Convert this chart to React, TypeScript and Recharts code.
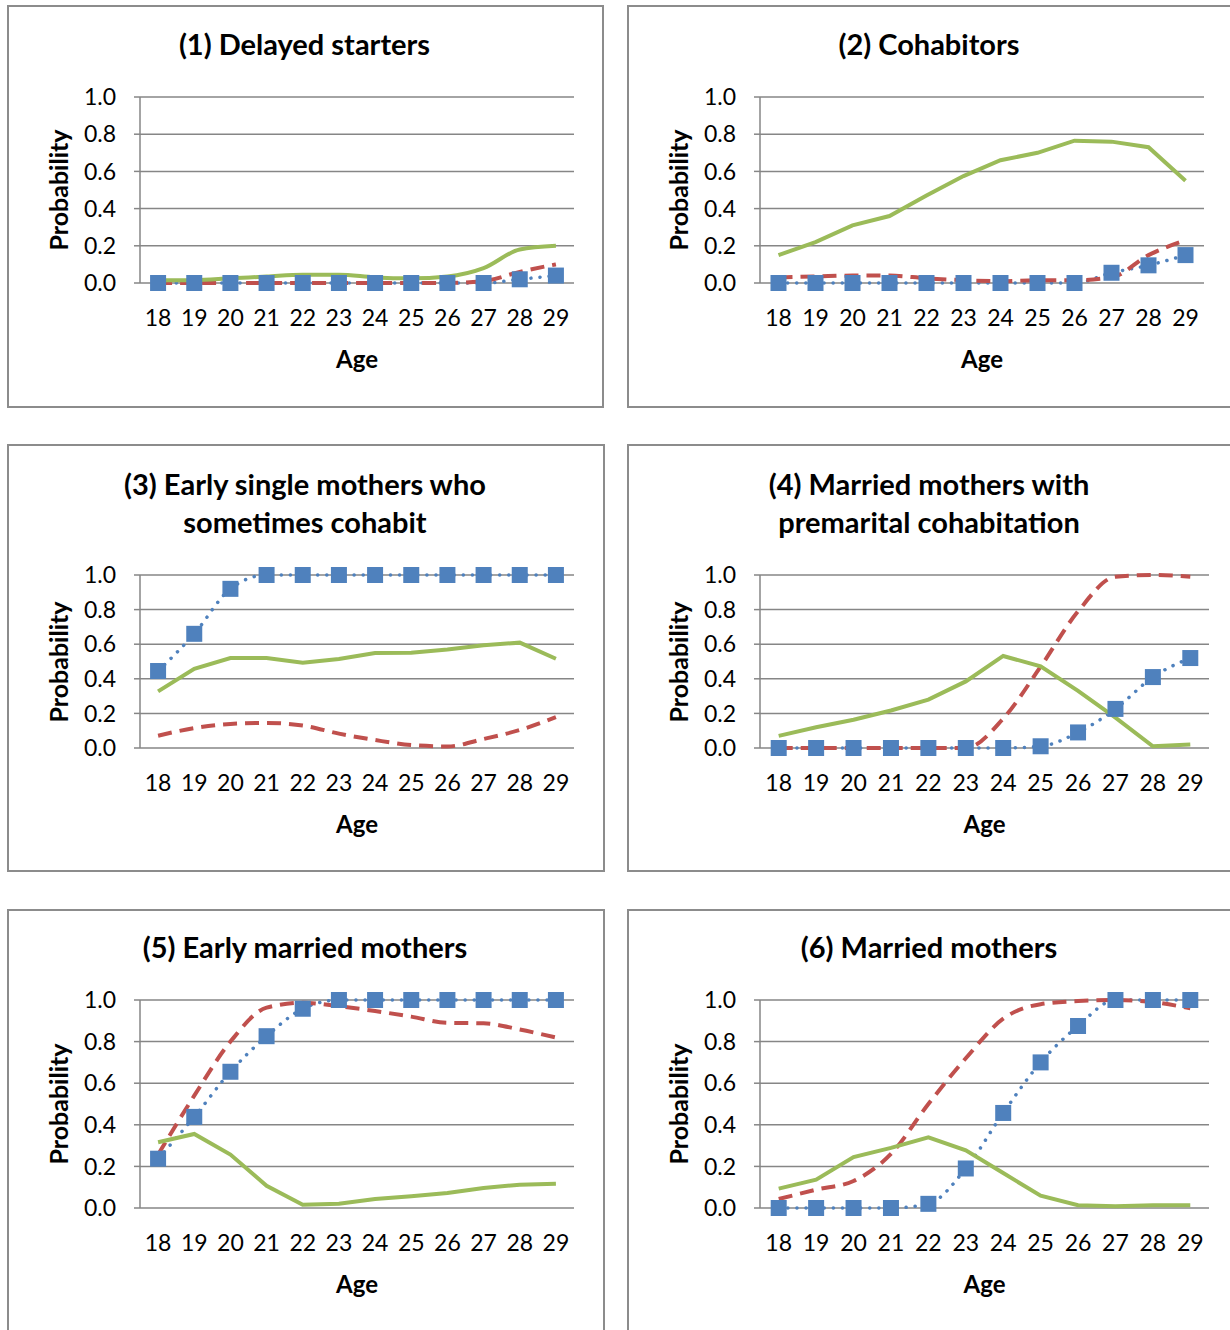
import React from "react";
import { LineChart, Line, XAxis, YAxis, CartesianGrid } from "recharts";

const ages = [18, 19, 20, 21, 22, 23, 24, 25, 26, 27, 28, 29];
const edgeTicks = [17.5, 18.5, 19.5, 20.5, 21.5, 22.5, 23.5, 24.5, 25.5, 26.5, 27.5, 28.5, 29.5];
const yTicks = [0, 0.2, 0.4, 0.6, 0.8, 1.0];

// (1) Delayed starters
const p1Blue = [0, 0, 0, 0, 0, 0, 0, 0, 0, 0, 0.02, 0.04];
const p1Red = [0, 0, 0, 0, 0, 0, 0, 0, 0, 0.01, 0.06, 0.1];
const p1Green = [0.015, 0.015, 0.025, 0.035, 0.045, 0.045, 0.03, 0.025, 0.035, 0.08, 0.18, 0.2];

// (2) Cohabitors
const p2Blue = [0, 0, 0, 0, 0, 0, 0, 0, 0, 0.055, 0.095, 0.15];
const p2Red = [0.03, 0.035, 0.04, 0.04, 0.025, 0.015, 0.01, 0.015, 0.015, 0.03, 0.15, 0.23];
const p2Green = [0.15, 0.22, 0.31, 0.36, 0.47, 0.575, 0.66, 0.7, 0.765, 0.76, 0.73, 0.55];

// (3) Early single mothers who sometimes cohabit
const p3Blue = [0.445, 0.66, 0.92, 1, 1, 1, 1, 1, 1, 1, 1, 1];
const p3Red = [0.071, 0.115, 0.139, 0.145, 0.13, 0.083, 0.046, 0.017, 0.009, 0.052, 0.104, 0.178];
const p3Green = [0.327, 0.458, 0.52, 0.52, 0.493, 0.515, 0.549, 0.551, 0.57, 0.594, 0.609, 0.516];

// (4) Married mothers with premarital cohabitation
const p4Blue = [0, 0, 0, 0, 0, 0, 0, 0.01, 0.09, 0.226, 0.41, 0.52];
const p4Red = [0, 0, 0, 0, 0, 0, 0.17, 0.47, 0.79, 0.99, 1.0, 0.99];
const p4Green = [0.07, 0.12, 0.163, 0.217, 0.28, 0.385, 0.532, 0.472, 0.33, 0.175, 0.01, 0.02];

// (5) Early married mothers
const p5Blue = [0.237, 0.438, 0.655, 0.826, 0.958, 1, 1, 1, 1, 1, 1, 1];
const p5Red = [0.257, 0.54, 0.8, 0.963, 0.987, 0.97, 0.947, 0.92, 0.89, 0.888, 0.858, 0.82];
const p5Green = [0.316, 0.356, 0.257, 0.107, 0.016, 0.02, 0.043, 0.057, 0.072, 0.096, 0.112, 0.117];

// (6) Married mothers
const p6Blue = [0, 0, 0, 0, 0.02, 0.19, 0.457, 0.7, 0.875, 1, 1, 1];
const p6Red = [0.043, 0.088, 0.13, 0.26, 0.5, 0.72, 0.91, 0.98, 0.995, 1.0, 0.99, 0.96];
const p6Green = [0.093, 0.136, 0.245, 0.289, 0.34, 0.277, 0.168, 0.059, 0.013, 0.008, 0.013, 0.013];

const BLUE = "#4F81BD";
const RED = "#C0504D";
const GREEN = "#9BBB59";
const GRID = "#868686";
const FONT = "Lato, 'Open Sans', sans-serif";

type PanelCfg = {
  title: string[];
  left: number;
  top: number;
  width: number;
  height: number;
  plot: { l: number; r: number; t: number; b: number };
  blue: number[];
  red: number[];
  green: number[];
  greenCurve: "linear" | "monotone";
};

const panels: PanelCfg[] = [
  { title: ["(1) Delayed starters"], left: 7, top: 5, width: 597, height: 403,
    plot: { l: 140, r: 574, t: 97, b: 283 }, blue: p1Blue, red: p1Red, green: p1Green, greenCurve: "monotone" },
  { title: ["(2) Cohabitors"], left: 627, top: 5, width: 606, height: 403,
    plot: { l: 760, r: 1204, t: 97, b: 283 }, blue: p2Blue, red: p2Red, green: p2Green, greenCurve: "linear" },
  { title: ["(3) Early single mothers who", "sometimes cohabit"], left: 7, top: 444, width: 598, height: 428,
    plot: { l: 140, r: 574, t: 575, b: 748 }, blue: p3Blue, red: p3Red, green: p3Green, greenCurve: "linear" },
  { title: ["(4) Married mothers with", "premarital cohabitation"], left: 627, top: 444, width: 606, height: 428,
    plot: { l: 760, r: 1209, t: 575, b: 748 }, blue: p4Blue, red: p4Red, green: p4Green, greenCurve: "linear" },
  { title: ["(5) Early married mothers"], left: 7, top: 909, width: 598, height: 430,
    plot: { l: 140, r: 574, t: 1000, b: 1208 }, blue: p5Blue, red: p5Red, green: p5Green, greenCurve: "linear" },
  { title: ["(6) Married mothers"], left: 627, top: 909, width: 606, height: 430,
    plot: { l: 760, r: 1209, t: 1000, b: 1208 }, blue: p6Blue, red: p6Red, green: p6Green, greenCurve: "linear" },
];

const Y_AXIS_W = 60;
const X_LABEL_H = 40;
const TICK_FONT = 23;

function SquareDot(props: any) {
  const { cx, cy, index } = props;
  if (cx == null || cy == null) return <g key={`sq-${index}`} />;
  return <rect key={`sq-${index}`} x={cx - 8} y={cy - 8} width={16} height={16} fill={BLUE} />;
}

function Panel({ cfg }: { cfg: PanelCfg }) {
  const data = ages.map((age, i) => ({ age, blue: cfg.blue[i], red: cfg.red[i], green: cfg.green[i] }));
  const margin = {
    left: cfg.plot.l - cfg.left - Y_AXIS_W,
    top: cfg.plot.t - cfg.top,
    right: cfg.left + cfg.width - cfg.plot.r,
    bottom: cfg.top + cfg.height - cfg.plot.b - X_LABEL_H,
  };
  const plotCx = (cfg.plot.l + cfg.plot.r) / 2;
  const plotCy = (cfg.plot.t + cfg.plot.b) / 2;
  const titleBase = cfg.plot.t - 54 - (cfg.title.length - 1) * 38;
  return (
    <>
      <div
        style={{
          position: "absolute", left: cfg.left, top: cfg.top, width: cfg.width, height: cfg.height,
          border: "2px solid #8c8c8c", boxSizing: "border-box",
        }}
      />
      {cfg.title.map((line, i) => (
        <div
          key={line}
          style={{
            position: "absolute", left: cfg.left + cfg.width / 2 - 1, top: titleBase + i * 38,
            transform: "translate(-50%, -50%)", whiteSpace: "nowrap",
            fontFamily: FONT, fontWeight: 700, fontSize: 29, color: "#000",
          }}
        >
          {line}
        </div>
      ))}
      <div
        style={{
          position: "absolute", left: cfg.plot.l - 82, top: plotCy,
          transform: "translate(-50%, -50%) rotate(-90deg)", whiteSpace: "nowrap",
          fontFamily: FONT, fontWeight: 700, fontSize: 25, color: "#000",
        }}
      >
        Probability
      </div>
      <div
        style={{
          position: "absolute", left: plotCx, top: cfg.plot.b + 75,
          transform: "translate(-50%, -50%)", whiteSpace: "nowrap",
          fontFamily: FONT, fontWeight: 700, fontSize: 24, color: "#000",
        }}
      >
        Age
      </div>
      <div style={{ position: "absolute", left: cfg.left, top: cfg.top }}>
        <LineChart width={cfg.width} height={cfg.height} data={data} margin={margin}>
          <CartesianGrid xAxisId="lab" vertical={false} stroke={GRID} strokeWidth={1.5} />
          <XAxis
            xAxisId="edge" dataKey="age" type="number" domain={[17.5, 29.5]} ticks={edgeTicks}
            interval={0} tickFormatter={() => ""} tickSize={7} height={0} stroke={GRID} strokeWidth={1.5}
          />
          <XAxis
            xAxisId="lab" dataKey="age" type="number" domain={[17.5, 29.5]} ticks={ages} interval={0}
            tickLine={false} axisLine={false} tickSize={0} tickMargin={27} height={X_LABEL_H}
            tick={{ fill: "#000", fontSize: TICK_FONT, fontFamily: FONT }}
          />
          <YAxis
            domain={[0, 1]} ticks={yTicks} interval={0} tickFormatter={(v: number) => v.toFixed(1)}
            width={Y_AXIS_W} tickSize={6} tickMargin={18} stroke={GRID} strokeWidth={1.5}
            tick={{ fill: "#000", fontSize: TICK_FONT, fontFamily: FONT }}
          />
          <Line
            xAxisId="lab" dataKey="blue" type="monotone" stroke={BLUE} strokeWidth={3.5}
            strokeDasharray="0.1 9" strokeLinecap="round" dot={SquareDot} activeDot={false}
            isAnimationActive={false}
          />
          <Line
            xAxisId="lab" dataKey="red" type="monotone" stroke={RED} strokeWidth={4}
            strokeDasharray="14 8" dot={false} activeDot={false} isAnimationActive={false}
          />
          <Line
            xAxisId="lab" dataKey="green" type={cfg.greenCurve} stroke={GREEN} strokeWidth={4}
            dot={false} activeDot={false} isAnimationActive={false}
          />
        </LineChart>
      </div>
    </>
  );
}

export default function App() {
  return (
    <div
      style={{
        position: "absolute", left: 0, top: 0, width: 1230, height: 1330,
        overflow: "hidden", background: "#fff",
      }}
    >
      {panels.map((p) => (
        <Panel key={p.title[0]} cfg={p} />
      ))}
    </div>
  );
}
